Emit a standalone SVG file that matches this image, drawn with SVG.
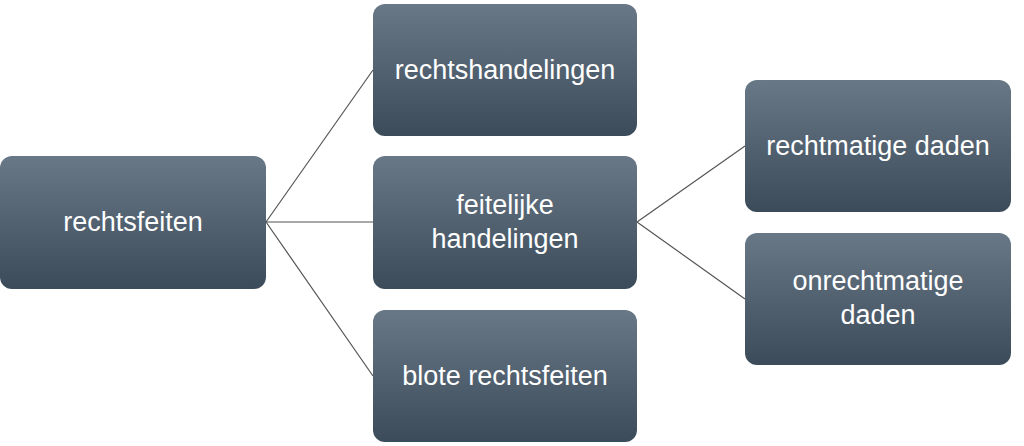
<svg xmlns="http://www.w3.org/2000/svg" width="1024" height="446" viewBox="0 0 1024 446">
<defs>
<linearGradient id="g" x1="0" y1="0" x2="0" y2="1">
<stop offset="0" stop-color="#687886"/><stop offset="1" stop-color="#3b4b5a"/>
</linearGradient>
<style>
.n{fill:url(#g)}
.t{fill:#fff;font-family:"Liberation Sans",Arial,sans-serif;font-size:27px;text-anchor:middle}
.c{stroke:#555;stroke-width:1.2;fill:none}
</style>
</defs>
<rect width="1024" height="446" fill="#fff"/>
<g id="connectors">
<path class="c" d="M266 222L373 70M266 222L373 222M266 222L373 376M637 222L745 146M637 222L745 299"/>
</g>
<g id="n1"><rect class="n" x="0" y="156" width="266" height="133" rx="12"/><text class="t" x="133" y="231">rechtsfeiten</text></g>
<g id="n2"><rect class="n" x="373" y="4" width="264" height="132" rx="12"/><text class="t" x="505" y="79">rechtshandelingen</text></g>
<g id="n3"><rect class="n" x="373" y="156" width="264" height="133" rx="12"/><text class="t" x="505" y="214">feitelijke</text><text class="t" x="505" y="248">handelingen</text></g>
<g id="n4"><rect class="n" x="373" y="310" width="264" height="132" rx="12"/><text class="t" x="505" y="385">blote rechtsfeiten</text></g>
<g id="n5"><rect class="n" x="745" y="80" width="266" height="132" rx="12"/><text class="t" x="878" y="155">rechtmatige daden</text></g>
<g id="n6"><rect class="n" x="745" y="233" width="266" height="132" rx="12"/><text class="t" x="878" y="290">onrechtmatige</text><text class="t" x="878" y="324">daden</text></g>
</svg>
